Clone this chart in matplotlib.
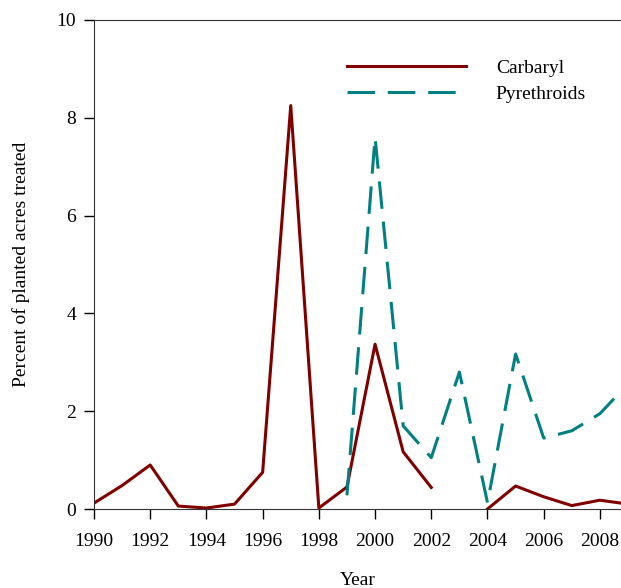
import numpy as np
import matplotlib.pyplot as plt

plt.rcParams['font.family'] = ['Liberation Serif', 'DejaVu Serif']

years = np.arange(1990, 2010)
carbaryl = [0.12, 0.48, 0.9, 0.06, 0.02, 0.1, 0.75, 8.25, 0.02, 0.45,
            3.37, 1.17, 0.44, np.nan, 0.0, 0.47, 0.25, 0.07, 0.18, 0.1]
pyrethroids = [np.nan] * 9 + [0.28, 7.6, 1.7, 1.05, 2.8, 0.13, 3.17, 1.45, 1.6, 1.95, 2.56]

fig = plt.figure(figsize=(6.21, 5.88), dpi=100)
ax = fig.add_axes([94/621, 1 - 509/588, 1 - 94/621, (509 - 20)/588])

ax.plot(years, carbaryl, color='#800000', lw=2.2, label='Carbaryl')
ax.plot(years, pyrethroids, color='#008080', lw=2.2, dashes=(9, 4.2), label='Pyrethroids')

ax.set_xlim(1990, 2008.75)
ax.set_ylim(0, 10)
ax.set_xticks(np.arange(1990, 2009, 2))
ax.set_yticks(np.arange(0, 11, 2))
ax.tick_params(direction='out', length=7, width=1, labelsize=14)
ax.tick_params(axis='x', pad=10)
ax.tick_params(axis='y', pad=6)
for s in ax.spines.values():
    s.set_color('#333333')
ax.spines['right'].set_visible(False)

ax.set_xlabel('Year', fontsize=14, labelpad=16)
ax.set_ylabel('Percent of planted acres treated', fontsize=14, labelpad=19)

ax.legend(loc='upper left', bbox_to_anchor=(0.447, 0.956), frameon=False,
          fontsize=14, handlelength=6.1, handletextpad=1.55, labelspacing=0.45)

fig.savefig('out.png', dpi=100)
